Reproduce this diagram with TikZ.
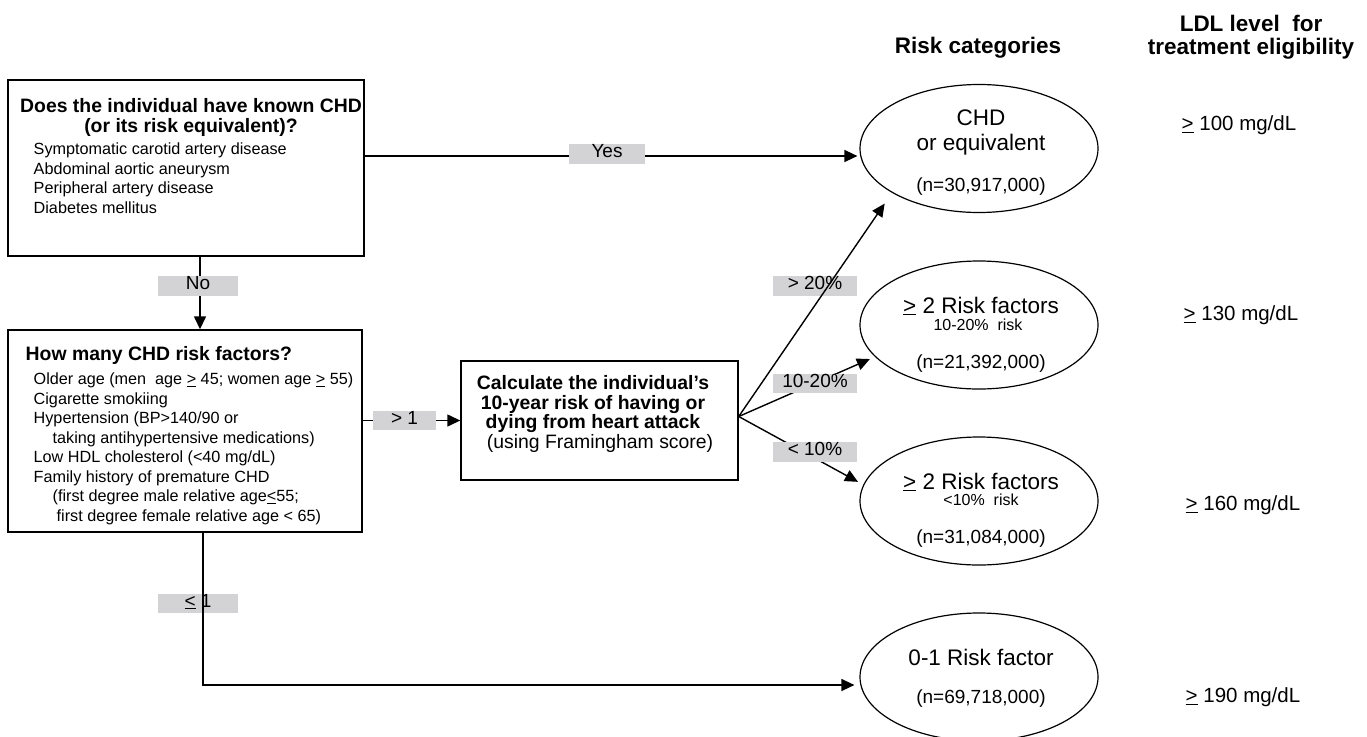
\documentclass[tikz,border=0pt]{standalone}
\usepackage{fontspec}
\setmainfont{Liberation Sans}
\usetikzlibrary{arrows.meta,shapes.geometric}
\definecolor{labgray}{RGB}{211,211,213}
\newcommand{\fsz}[2]{\fontsize{#1}{#2}\selectfont}
\newcommand{\topst}{\rule{0pt}{0.8em}}
\begin{document}
\begin{tikzpicture}[x=1pt,y=-1pt,
  line width=1.4pt,
  arr/.style={-{Triangle[length=13pt,width=12pt]}},
  box/.style={draw, rectangle, line width=1.4pt, inner sep=0pt},
  oval/.style={draw, ellipse, line width=1.2pt, minimum width=238pt, minimum height=128pt, inner sep=0pt},
  lab/.style={fill=labgray, inner sep=0pt, minimum height=19.5pt, font=\fsz{19}{20}, text height=0.72em, text depth=0pt},
  txt/.style={inner sep=0pt}
]
\clip (0,0) rectangle (1367,736);

% boxes
\node[box, minimum width=356pt, minimum height=176pt] (q1) at (186,168) {};
\node[box, minimum width=354pt, minimum height=202pt] (q2) at (185,431) {};
\node[box, minimum width=277pt, minimum height=119pt] (q3) at (599.5,420.5) {};

% ellipses
\node[oval] (e1) at (979,148.5) {};
\node[oval] (e2) at (979,325) {};
\node[oval] (e3) at (979,501) {};
\node[oval] (e4) at (979,677) {};

% labels under the lines
\node[lab, minimum width=84pt] (l20) at (815,286) {> 20\%};
\node[lab, minimum width=80pt] (lle1) at (198,603.5) {\underline{<} 1};

% connectors
\coordinate (yesend) at ([yshift=-7.5pt]e1.west);
\draw[arr, shorten >=2pt] (q1.east |- yesend) -- (yesend);
\coordinate (nox) at (200,300);
\draw[arr] (q1.south -| nox) -- (q2.north -| nox);
\draw[arr] (q2.east |- q3.west) -- (q3.west);
\coordinate (br) at ([yshift=4pt]q3.east);
\draw[arr, shorten >=13pt] (br) -- (e1.207);
\draw[arr, shorten >=5.5pt] (br) -- (e2.197);
\draw[arr, shorten >=6pt] (br) -- (e3.172);
\coordinate (dnx) at (203,600);
\coordinate (e4in) at ([yshift=-8pt]e4.west);
\draw[arr, shorten >=5pt] (q2.south -| dnx) |- (e4in);

% labels over the lines
\node[lab, minimum width=76pt] (ly) at (607,154) {Yes};
\node[lab, minimum width=80pt] (ln) at (198,286) {No};
\node[lab, minimum width=63pt] (lg1) at (404.5,420.5) {> 1};
\node[lab, minimum width=84pt] (l1020) at (815,383.5) {10-20\%};
\node[lab, minimum width=84pt] (l10) at (815,452) {< 10\%};

% box 1 text
\node[txt, anchor=north, align=center, font=\bfseries\fsz{19.4}{20}] (t1) at (191,96.5)
  {\topst Does the individual have known CHD\\(or its risk equivalent)?};
\node[txt, anchor=north west, align=left, font=\fsz{16.2}{19.5}] (t1l) at (33,141)
  {\topst Symptomatic carotid artery disease\\Abdominal aortic aneurysm\\Peripheral artery disease\\Diabetes mellitus};

% box 2 text
\node[txt, anchor=base west, font=\bfseries\fsz{19.4}{20}] (t2) at (25,360)
  {How many CHD risk factors?};
\node[txt, anchor=north west, align=left, font=\fsz{16.2}{19.5}] (t2l) at (33,371)
  {\topst Older age (men~ age \underline{>} 45; women age \underline{>} 55)\\
   Cigarette smokiing\\
   Hypertension (BP>140/90 or\\
   \hspace*{19pt}taking antihypertensive medications)\\
   Low HDL cholesterol (<40 mg/dL)\\
   Family history of premature CHD\\
   \hspace*{19pt}(first degree male relative age\underline{<}55;\\
   \hspace*{23pt}first degree female relative age < 65)};

% box 3 text
\node[txt, anchor=north, align=center, font=\fsz{19.4}{19.5}] (t3) at (593,373.5)
  {\topst\textbf{Calculate the individual’s}\\\textbf{10-year risk of having or}\\\textbf{dying from heart attack}\\\hspace*{14pt}(using Framingham score)};

% headers
\node[txt, anchor=base, font=\bfseries\fsz{22.5}{25}] (h1) at (978,53) {Risk categories};
\node[txt, anchor=base, font=\bfseries\fsz{22.5}{25}] (h2a) at (1251,31) {LDL level~ for};
\node[txt, anchor=base, font=\bfseries\fsz{22.5}{25}] (h2b) at (1251,54) {treatment eligibility};

% ellipse texts
\node[txt, anchor=north, align=center, font=\fsz{22.5}{25}] (e1t) at (981,107) {\topst CHD\\or equivalent};
\node[txt, anchor=base, font=\fsz{19}{22}] (e1n) at (981,191.8) {(n=30,917,000)};
\node[txt, anchor=base, font=\fsz{22.5}{25}] (e2t) at (981,313) {\underline{>} 2 Risk factors};
\node[txt, anchor=base, font=\fsz{16}{18}] (e2r) at (978,330.8) {10-20\%~ risk};
\node[txt, anchor=base, font=\fsz{19}{22}] (e2n) at (981,368.8) {(n=21,392,000)};
\node[txt, anchor=base, font=\fsz{22.5}{25}] (e3t) at (981,489) {\underline{>} 2 Risk factors};
\node[txt, anchor=base, font=\fsz{16}{18}] (e3r) at (981,505.8) {<10\%~ risk};
\node[txt, anchor=base, font=\fsz{19}{22}] (e3n) at (981,543.8) {(n=31,084,000)};
\node[txt, anchor=base, font=\fsz{22.5}{25}] (e4t) at (981,665) {0-1 Risk factor};
\node[txt, anchor=base, font=\fsz{19}{22}] (e4n) at (981,703.8) {(n=69,718,000)};

% LDL levels
\node[txt, anchor=base west, font=\fsz{20.5}{23}] (v1) at (1181,130.4) {\underline{>} 100 mg/dL};
\node[txt, anchor=base west, font=\fsz{20.5}{23}] (v2) at (1183,320.4) {\underline{>} 130 mg/dL};
\node[txt, anchor=base west, font=\fsz{20.5}{23}] (v3) at (1185,510.4) {\underline{>} 160 mg/dL};
\node[txt, anchor=base west, font=\fsz{20.5}{23}] (v4) at (1185,702.4) {\underline{>} 190 mg/dL};
\end{tikzpicture}
\end{document}
